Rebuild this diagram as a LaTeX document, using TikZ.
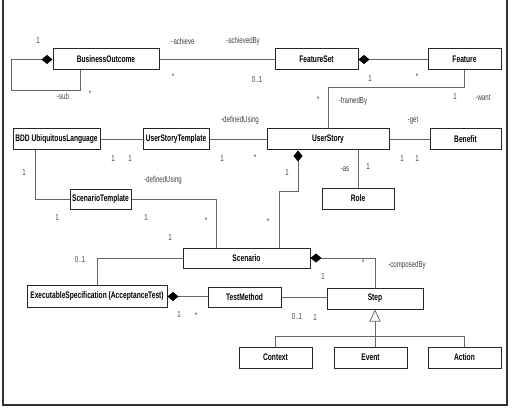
\documentclass[tikz,border=0pt]{standalone}
\usepackage{fontspec}
\newfontfamily\umlfont[FakeStretch=0.7]{Liberation Sans}
\usetikzlibrary{arrows.meta}

\begin{document}
\begin{tikzpicture}[x=1pt, y=-1pt,
  cls/.style={draw=black!85, line width=1pt, fill=white, inner sep=0pt,
              minimum height=21pt, font=\umlfont\bfseries\fontsize{9.5}{10}\selectfont},
  lbl/.style={inner sep=0pt, text=black!75,
              font=\umlfont\fontsize{8.7}{10}\selectfont},
  assoc/.style={draw=black!60, line width=0.7pt},
  comp/.style={assoc, {Diamond[length=11pt, width=9pt, color=black, fill=black]}-},
  gen/.style={assoc, -{Triangle[open, length=12pt, width=11pt, fill=white]}}
]
  \useasboundingbox (0,0) rectangle (529,414);
  % frame
  \draw[line width=1.8pt, black!80] (3,-5) -- (3,405) -- (507,405) -- (507,-5);

  % classes
  \node[cls, minimum width=106pt] (bo)   at (106,59.5)  {BusinessOutcome};
  \node[cls, minimum width=83pt]  (fset) at (316.5,59.5) {FeatureSet};
  \node[cls, minimum width=73pt]  (feat) at (464.5,59.5) {Feature};
  \node[cls, minimum width=87pt]  (bdd)  at (56.5,139.5) {BDD UbiquitousLanguage};
  \node[cls, minimum width=66pt]  (ust)  at (176,139.5)  {UserStoryTemplate};
  \node[cls, minimum width=122pt] (us)   at (328,139.5)  {UserStory};
  \node[cls, minimum width=71pt]  (ben)  at (465.5,139.5) {Benefit};
  \node[cls, minimum width=72pt]  (role) at (358,198.5)  {Role};
  \node[cls, minimum width=61pt, minimum height=20pt] (stpl) at (100.5,199) {ScenarioTemplate};
  \node[cls, minimum width=127pt, minimum height=20pt] (scn) at (246.5,258) {Scenario};
  \node[cls, minimum width=140pt, minimum height=22pt] (exs) at (97,296.5) {ExecutableSpecification (AcceptanceTest)};
  \node[cls, minimum width=73pt, minimum height=20pt] (tm) at (244.5,297.5) {TestMethod};
  \node[cls, minimum width=96pt]  (step) at (375,298.5)  {Step};
  \node[cls, minimum width=73pt]  (ctx)  at (275.5,357.5) {Context};
  \node[cls, minimum width=73pt]  (evt)  at (370.5,357.5) {Event};
  \node[cls, minimum width=73pt]  (act)  at (464.5,357.5) {Action};
  \coordinate (gbar) at (375,336);

  % connectors
  \draw[comp] (bo.west) -- ++(-41,0) -- ++(0,30.5) -| ([xshift=-26pt]bo.south);
  \draw[assoc] (bo.east) -- (fset.west);
  \draw[comp] (fset.east) -- (feat.west);
  \draw[assoc] (feat.south) -- ++(0,17) -| (us.north);
  \draw[assoc] (us.east) -- (ben.west);
  \draw[assoc] (bdd.east) -- (ust.west);
  \draw[assoc] (ust.east) -- (us.west);
  \draw[assoc] (role.north |- us.south) -- (role.north);
  \draw[comp] ([xshift=-30pt]us.south) -- ++(0,40.5) -| ([xshift=32.5pt]scn.north);
  \draw[assoc] ([xshift=-21.5pt]bdd.south) |- (stpl.west);
  \draw[assoc] (stpl.east) -| ([xshift=-30.5pt]scn.north);
  \draw[assoc] (scn.west) -| (exs.north);
  \draw[comp] (scn.east) -| (step.north);
  \draw[comp] (exs.east) -- (exs.east -| tm.west);
  \draw[assoc] (tm.east) -- (tm.east -| step.west);
  \draw[gen] (gbar) -- (step.south);
  \draw[assoc] (ctx.north) |- (gbar) -| (gbar |- evt.north);
  \draw[assoc] (act.north) |- (gbar);

  % role names and multiplicities
  \node[lbl] (m1)  at (38,41)    {1};
  \node[lbl] (m2)  at (63,96)    {-sub};
  \node[lbl] (m3)  at (90,94)    {*};
  \node[lbl] (m4)  at (183,41)   {-achieve};
  \node[lbl] (m5)  at (173,77)   {*};
  \node[lbl] (m6)  at (243,41)   {-achievedBy};
  \node[lbl] (m7)  at (257,80)   {0..1};
  \node[lbl] (m8)  at (370,79)   {1};
  \node[lbl] (m9)  at (417,77)   {*};
  \node[lbl] (m10) at (318,100)  {*};
  \node[lbl] (m11) at (353,101)  {-framedBy};
  \node[lbl] (m12) at (455,97)   {1};
  \node[lbl] (m13) at (483,98)   {-want};
  \node[lbl] (m14) at (413,121)  {-get};
  \node[lbl] (m15) at (240,120)  {-definedUsing};
  \node[lbl] (m16) at (113,159)  {1};
  \node[lbl] (m17) at (130,159)  {1};
  \node[lbl] (m18) at (222,159)  {1};
  \node[lbl] (m19) at (255,158)  {*};
  \node[lbl] (m20) at (402,159)  {1};
  \node[lbl] (m21) at (417,159)  {1};
  \node[lbl] (m22) at (345,169)  {-as};
  \node[lbl] (m23) at (368,167)  {1};
  \node[lbl] (m24) at (287,173)  {1};
  \node[lbl] (m25) at (24,173)   {1};
  \node[lbl] (m26) at (163,180)  {-definedUsing};
  \node[lbl] (m27) at (57,218)   {1};
  \node[lbl] (m28) at (146,218)  {1};
  \node[lbl] (m29) at (206,221)  {*};
  \node[lbl] (m30) at (268,222)  {*};
  \node[lbl] (m31) at (170,238)  {1};
  \node[lbl] (m32) at (80,260)   {0..1};
  \node[lbl] (m33) at (363,263)  {*};
  \node[lbl] (m34) at (407,265)  {-composedBy};
  \node[lbl] (m35) at (323,277)  {1};
  \node[lbl] (m36) at (179,315)  {1};
  \node[lbl] (m37) at (196,316)  {*};
  \node[lbl] (m38) at (297,317)  {0..1};
  \node[lbl] (m39) at (315,318)  {1};
\end{tikzpicture}
\end{document}
